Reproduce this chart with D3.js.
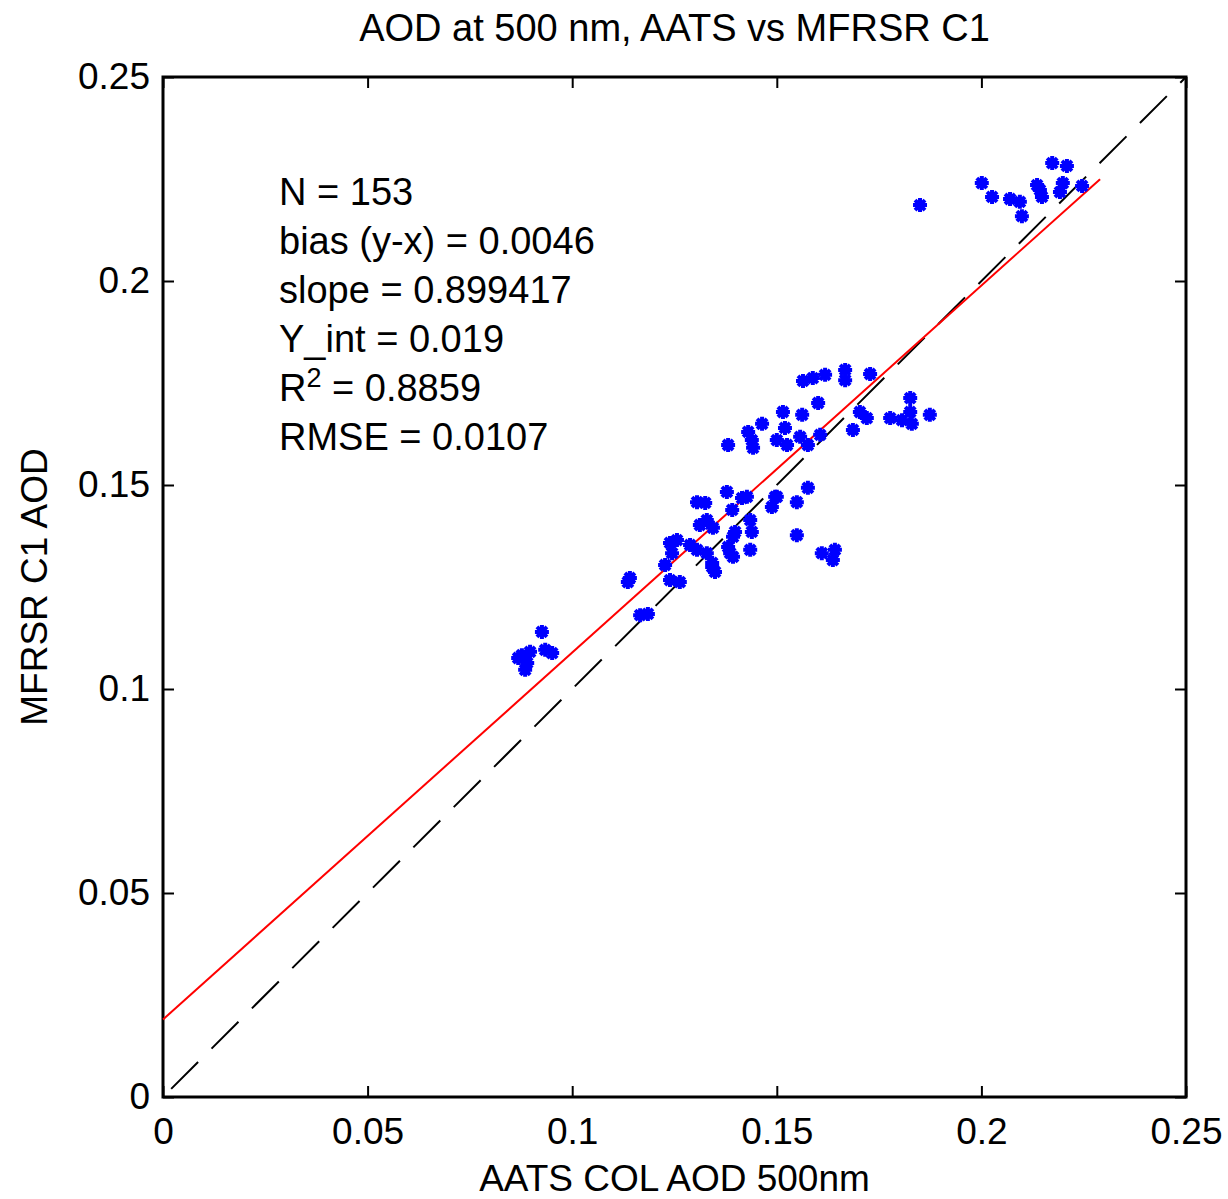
<!DOCTYPE html>
<meta charset="utf-8">
<style>
  body { margin: 0; background: #fff; }
  text { font-family: "Liberation Sans", Arial, sans-serif; fill: #000; }
</style>
<script src="https://d3js.org/d3.v7.min.js"></script>
<div id="chart"></div>
<script>

// AATS (x) vs MFRSR C1 (y) AOD at 500 nm
var aatsX = [
  0.0877, 0.0885, 0.0890, 0.0868, 0.0897, 0.0926, 0.0934, 0.0951,
  0.1141, 0.1136, 0.1166, 0.1185,
  0.1239, 0.1244, 0.1239, 0.1263, 0.1227, 0.1256, 0.1288,
  0.1305, 0.1325, 0.1312, 0.1329, 0.1344, 0.1305, 0.1329, 0.1342, 0.1349, 0.1342,
  0.1378, 0.1391, 0.1398, 0.1381, 0.1393, 0.1393, 0.1386, 0.1415,
  0.1427, 0.1435, 0.1439, 0.1435, 0.1488, 0.1496, 0.1500,
  0.1549, 0.1549, 0.1576, 0.1610, 0.1642, 0.1637,
  0.1381, 0.1430, 0.1439, 0.1442, 0.1464, 0.1500, 0.1520, 0.1525, 0.1515,
  0.1562, 0.1557, 0.1576, 0.1606, 0.1601,
  0.1564, 0.1588, 0.1618, 0.1667, 0.1667, 0.1728,
  0.1686, 0.1703, 0.1720, 0.1777, 0.1806, 0.1826, 0.1826, 0.1830, 0.1874,
  0.1850, 0.2001, 0.2026, 0.2070, 0.2094, 0.2099, 0.2136, 0.2148, 0.2143,
  0.2173, 0.2209, 0.2192, 0.2199, 0.2246
];
var mfrsrY = [
  0.1083, 0.1047, 0.1064, 0.1076, 0.1091, 0.1140, 0.1096, 0.1088,
  0.1272, 0.1262, 0.1181, 0.1184,
  0.1358, 0.1333, 0.1267, 0.1262, 0.1304, 0.1365, 0.1353,
  0.1458, 0.1456, 0.1402, 0.1414, 0.1395, 0.1341, 0.1333, 0.1299, 0.1287, 0.1309,
  0.1483, 0.1439, 0.1385, 0.1348, 0.1324, 0.1373, 0.1333, 0.1468,
  0.1471, 0.1414, 0.1385, 0.1341, 0.1446, 0.1471, 0.1471,
  0.1377, 0.1458, 0.1493, 0.1333, 0.1341, 0.1316,
  0.1598, 0.1630, 0.1610, 0.1591, 0.1650, 0.1610, 0.1640, 0.1598, 0.1679,
  0.1672, 0.1618, 0.1598, 0.1623, 0.1701,
  0.1755, 0.1762, 0.1770, 0.1782, 0.1757, 0.1772,
  0.1635, 0.1679, 0.1664, 0.1664, 0.1659, 0.1679, 0.1713, 0.1650, 0.1672,
  0.2186, 0.2240, 0.2206, 0.2201, 0.2194, 0.2159, 0.2235, 0.2206, 0.2223,
  0.2289, 0.2282, 0.2218, 0.2240, 0.2233
];

var ticks = [0, 0.05, 0.1, 0.15, 0.2, 0.25];
var tickLabels = ["0", "0.05", "0.1", "0.15", "0.2", "0.25"];
var fitSlope = 0.899417, fitIntercept = 0.019;
var fitRange = [0, 0.229];
var oneToOne = [0.002, 0.25];
var stats = ["N = 153", "bias (y-x) = 0.0046", "slope = 0.899417", "Y_int = 0.019",
             "R2 = 0.8859", "RMSE = 0.0107"];

var W = 1228, H = 1199;
var margin = {top: 77, right: 42, bottom: 102, left: 163};
var width = W - margin.left - margin.right,
    height = H - margin.top - margin.bottom;

var svg = d3.select("#chart").append("svg")
    .attr("width", W).attr("height", H);
var g = svg.append("g")
    .attr("transform", "translate(" + margin.left + "," + margin.top + ")");

var x = d3.scaleLinear().domain([0, 0.25]).range([0, width]);
var y = d3.scaleLinear().domain([0, 0.25]).range([height, 0]);

// axes with inward ticks on all four sides
function fmt(d, i) { return tickLabels[i]; }
var fs = "37px";
g.append("g").attr("transform", "translate(0," + height + ")")
  .call(d3.axisBottom(x).tickValues(ticks).tickFormat(fmt).tickSizeInner(-11).tickSizeOuter(0).tickPadding(21))
  .call(function(a) { a.selectAll("text").style("font-size", fs); });
g.append("g")
  .call(d3.axisLeft(y).tickValues(ticks).tickFormat(fmt).tickSizeInner(-11).tickSizeOuter(0).tickPadding(13))
  .call(function(a) { a.selectAll("text").style("font-size", fs); });
g.append("g")
  .call(d3.axisTop(x).tickValues(ticks).tickFormat("").tickSizeInner(-11).tickSizeOuter(0));
g.append("g").attr("transform", "translate(" + width + ",0)")
  .call(d3.axisRight(y).tickValues(ticks).tickFormat("").tickSizeInner(-11).tickSizeOuter(0));
g.selectAll(".domain").remove();
g.selectAll(".tick line").attr("stroke", "#000").attr("stroke-width", 2);
g.append("rect").attr("width", width).attr("height", height)
  .attr("fill", "none").attr("stroke", "#000").attr("stroke-width", 3);

// 1:1 dashed line
g.append("line")
  .attr("x1", x(oneToOne[0])).attr("y1", y(oneToOne[0]))
  .attr("x2", x(oneToOne[1])).attr("y2", y(oneToOne[1]))
  .attr("stroke", "#000").attr("stroke-width", 2)
  .attr("stroke-dasharray", "38,19");

// regression line
g.append("line")
  .attr("x1", x(fitRange[0])).attr("y1", y(fitIntercept + fitSlope * fitRange[0]))
  .attr("x2", x(fitRange[1])).attr("y2", y(fitIntercept + fitSlope * fitRange[1]))
  .attr("stroke", "#f00").attr("stroke-width", 2);

// asterisk markers
var star = "M-7,0H7M0,-7V7M-5,-5L5,5M-5,5L5,-5";
g.append("g").selectAll("path")
  .data(d3.range(aatsX.length))
  .enter().append("path")
    .attr("transform", function(i) { return "translate(" + x(aatsX[i]) + "," + y(mfrsrY[i]) + ")"; })
    .attr("d", star)
    .attr("stroke", "#00f").attr("stroke-width", 4)
    .attr("fill", "none");

// statistics text
var st = g.append("g").attr("transform", "translate(116,0)");
stats.forEach(function(s, i) {
  var t = st.append("text").attr("y", 128 + i * 49).style("font-size", "38px");
  if (i == 4) {
    t.text("R");
    t.append("tspan").attr("dy", -14).style("font-size", "27px").text("2");
    t.append("tspan").attr("dy", 14).text(" = 0.8859");
  } else {
    t.text(s);
  }
});

// title and axis labels
svg.append("text").attr("x", margin.left + width / 2).attr("y", 41)
  .attr("text-anchor", "middle").style("font-size", "38px")
  .text("AOD at 500 nm, AATS vs MFRSR C1");
svg.append("text").attr("x", margin.left + width / 2).attr("y", 1191)
  .attr("text-anchor", "middle").style("font-size", "37px")
  .text("AATS COL AOD 500nm");
svg.append("text")
  .attr("transform", "translate(47," + (margin.top + height / 2) + ") rotate(-90)")
  .attr("text-anchor", "middle").style("font-size", "37px")
  .text("MFRSR C1 AOD");

</script>
